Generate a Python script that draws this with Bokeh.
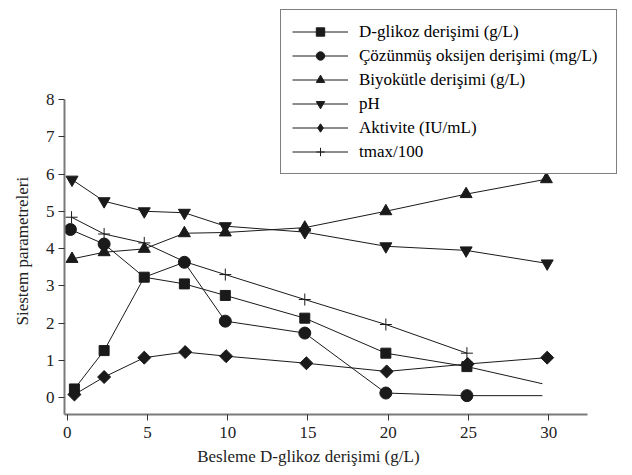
from bokeh.plotting import figure
from bokeh.models import Legend, LegendItem, Range1d, FixedTicker, Title
from bokeh.embed import file_html
from bokeh.resources import INLINE
import math

# ---- data ----
x_ticks = [0, 5, 10, 15, 20, 25, 30]
y_ticks = [0, 1, 2, 3, 4, 5, 6, 7, 8]

glu_x = [0.45, 2.3, 4.8, 7.3, 9.85, 14.8, 19.85, 24.9, 29.6]
glu_y = [0.23, 1.26, 3.23, 3.05, 2.74, 2.13, 1.19, 0.83, 0.37]
glu_mark = [1, 1, 1, 1, 1, 1, 1, 1, 0]

do_x = [0.2, 2.3, 4.8, 7.3, 9.85, 14.8, 19.85, 24.9, 29.6]
do_y = [4.51, 4.12, 3.23, 3.63, 2.05, 1.73, 0.12, 0.05, 0.05]
do_mark = [1, 1, 0, 1, 1, 1, 1, 1, 0]

bio_x = [0.3, 2.3, 4.8, 7.3, 9.85, 14.8, 19.85, 24.85, 29.85]
bio_y = [3.72, 3.9, 3.99, 4.41, 4.43, 4.56, 5.0, 5.46, 5.86]

ph_x = [0.3, 2.3, 4.8, 7.3, 9.85, 14.8, 19.85, 24.85, 29.9]
ph_y = [5.85, 5.27, 5.0, 4.96, 4.6, 4.44, 4.06, 3.95, 3.6]

akt_x = [0.45, 2.3, 4.8, 7.35, 9.9, 14.9, 19.9, 24.95, 29.9]
akt_y = [0.08, 0.55, 1.07, 1.22, 1.11, 0.92, 0.7, 0.9, 1.07]

tmax_x = [0.27, 2.3, 4.8, 7.3, 9.85, 14.8, 19.85, 24.9]
tmax_y = [4.84, 4.39, 4.15, 3.65, 3.3, 2.63, 1.96, 1.19]
tmax_mark = [1, 1, 1, 0, 1, 1, 1, 1]

labels = ["D-glikoz derişimi (g/L)", "Çözünmüş oksijen derişimi (mg/L)",
          "Biyokütle derişimi (g/L)", "pH", "Aktivite (IU/mL)", "tmax/100"]
x_title = "Besleme D-glikoz derişimi (g/L)"
y_title = "Siestem parametreleri"

x_axis_span = (-0.168, 32.41)
y_axis_span = (-0.456, 8)

FONT = "Liberation Serif"
FS = "17px"
INK = "#1a1a1a"

p = figure(width=624, height=470, x_range=Range1d(-0.168, 34.716), y_range=Range1d(-0.456, 10.658),
           output_backend="svg", toolbar_location=None,
           min_border_left=64, min_border_right=0, min_border_top=0, min_border_bottom=56)
p.outline_line_color = None
p.grid.visible = False
p.background_fill_color = "white"

def sel(xs, ys, mask):
    return [a for a, m in zip(xs, mask) if m], [b for b, m in zip(ys, mask) if m]

series = [
    (glu_x, glu_y, glu_mark, "square", 10, 0),
    (do_x, do_y, do_mark, "circle", 12, 0),
    (bio_x, bio_y, [1] * len(bio_x), "triangle", 12, 0),
    (ph_x, ph_y, [1] * len(ph_x), "inverted_triangle", 12, 0),
    (akt_x, akt_y, [1] * len(akt_x), "square", 9.2, math.pi / 4),
    (tmax_x, tmax_y, tmax_mark, "cross", 12, 0),
]

lines = []
for xs, ys, mask, mk, sz, ang in series:
    lines.append(p.line(xs, ys, line_color=INK, line_width=1))

# diamond glyph used for the legend entry (hidden under the rotated squares)
akt_legend = p.scatter(akt_x, akt_y, marker="diamond", size=11, line_color=INK, fill_color=INK)

marks = [None] * len(series)
order = [5, 0, 1, 2, 3, 4]
for i in order:
    xs, ys, mask, mk, sz, ang = series[i]
    mx, my = sel(xs, ys, mask)
    if mk == "cross":
        marks[i] = p.scatter(mx, my, marker=mk, size=sz, angle=ang,
                             line_color=INK, line_width=1, fill_color=None)
    else:
        marks[i] = p.scatter(mx, my, marker=mk, size=sz, angle=ang,
                             line_color=INK, fill_color=INK, line_width=1)

leg_renderers = [[lines[i], marks[i]] for i in range(len(series))]
leg_renderers[4] = [lines[4], akt_legend]
items = [LegendItem(label=labels[i], renderers=leg_renderers[i]) for i in range(len(series))]
legend = Legend(items=items, location=(216, 240),
                label_text_font=FONT, label_text_font_size=FS, label_text_color="black",
                glyph_width=56, glyph_height=21, label_height=21, label_width=246,
                spacing=3, padding=11, label_standoff=11, margin=0,
                border_line_color="black", border_line_width=1,
                background_fill_color="white", background_fill_alpha=1)
p.add_layout(legend, "center")

p.xaxis.bounds = x_axis_span
p.yaxis.bounds = y_axis_span
p.xaxis.ticker = FixedTicker(ticks=x_ticks)
p.yaxis.ticker = FixedTicker(ticks=y_ticks)
p.axis.minor_tick_line_color = None
p.axis.major_tick_in = 0
p.axis.major_tick_out = 6
p.axis.major_tick_line_color = "#333333"
p.axis.axis_line_color = "#7a7a7a"
p.axis.axis_line_width = 2
p.axis.major_label_text_font = FONT
p.axis.major_label_text_font_size = FS
p.axis.major_label_text_color = "#222222"
p.xaxis.major_label_standoff = 6
p.yaxis.major_label_standoff = 4

# x title: axis label, padded with trailing no-break spaces to sit left of centre as in the reference
p.xaxis.axis_label = x_title + "\u00a0" * 17
p.xaxis.axis_label_text_font = FONT
p.xaxis.axis_label_text_font_size = FS
p.xaxis.axis_label_text_font_style = "normal"
p.xaxis.axis_label_text_color = "#222222"
p.xaxis.axis_label_standoff = 6

# y title as a side title so it can be offset along the axis like the reference
yt = Title(text=y_title, align="left", offset=89, vertical_align="top", standoff=17,
           text_font=FONT, text_font_size=FS, text_font_style="normal", text_color="#222222")
p.add_layout(yt, "left")

open("out.html", "w").write(file_html(p, INLINE))
